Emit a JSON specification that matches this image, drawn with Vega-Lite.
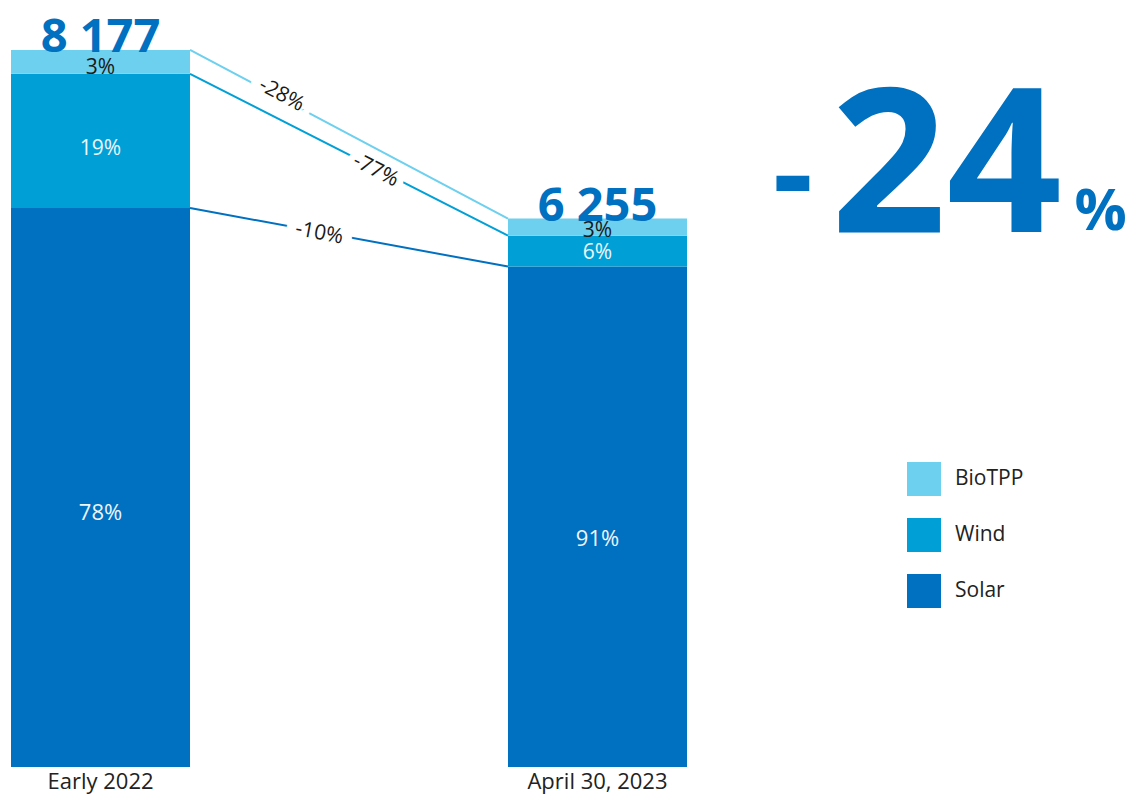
{
  "$schema": "https://vega.github.io/schema/vega-lite/v6.json",
  "padding": {"left": 11, "top": 10, "right": 0, "bottom": 3},
  "width": 676,
  "height": 757,
  "datasets": {
    "bars": [
      {"period": "Early 2022", "segment": "Solar", "value": 6375, "share": "78%", "rank": 1},
      {"period": "Early 2022", "segment": "Wind", "value": 1530, "share": "19%", "rank": 2},
      {"period": "Early 2022", "segment": "BioTPP", "value": 272, "share": "3%", "rank": 3},
      {"period": "April 30, 2023", "segment": "Solar", "value": 5707, "share": "91%", "rank": 1},
      {"period": "April 30, 2023", "segment": "Wind", "value": 352, "share": "6%", "rank": 2},
      {"period": "April 30, 2023", "segment": "BioTPP", "value": 196, "share": "3%", "rank": 3}
    ],
    "changes": [
      {"segment": "BioTPP", "change": "-28%"},
      {"segment": "Wind", "change": "-77%"},
      {"segment": "Solar", "change": "-10%"}
    ],
    "summary": [{"sign": "-", "number": "24", "unit": "%"}]
  },
  "data": {"name": "bars"},
  "layer": [
    {
      "mark": {"type": "bar"},
      "encoding": {
        "x": {
          "field": "period", "type": "nominal", "title": null,
          "scale": {"domain": ["Early 2022", "April 30, 2023"], "paddingInner": 0.6398, "paddingOuter": 0}
        },
        "y": {"field": "value", "type": "quantitative", "stack": "zero", "scale": {"domain": [0, 8633], "nice": false}, "axis": null},
        "color": {
          "field": "segment", "type": "nominal", "title": null,
          "scale": {"domain": ["BioTPP", "Wind", "Solar"], "range": ["#6DD0EE", "#00A0D6", "#0070C0"]},
          "legend": {"orient": "none", "legendX": 896, "legendY": 452}
        },
        "order": {"field": "rank", "type": "quantitative"}
      }
    },
    {
      "transform": [
        {"stack": "value", "groupby": ["period"], "sort": [{"field": "rank", "order": "ascending"}], "as": ["lo", "hi"]},
        {"pivot": "period", "value": "hi", "groupby": ["segment"]}
      ],
      "mark": {"type": "rule", "strokeWidth": 2},
      "encoding": {
        "x": {"datum": "Early 2022", "type": "nominal", "bandPosition": 1, "title": null},
        "x2": {"datum": "April 30, 2023", "bandPosition": 0},
        "y": {"field": "Early 2022", "type": "quantitative", "axis": null},
        "y2": {"field": "April 30, 2023"},
        "color": {"field": "segment", "type": "nominal", "legend": null}
      }
    },
    {
      "mark": {"type": "text", "fontSize": 21, "baseline": "middle", "align": "center", "color": "#1a1a1a"},
      "encoding": {
        "x": {"field": "period", "type": "nominal", "title": null},
        "y": {"field": "value", "type": "quantitative", "stack": "zero", "bandPosition": 0.25, "axis": null},
        "detail": {"field": "segment"},
        "order": {"field": "rank", "type": "quantitative"},
        "text": {"condition": {"test": "datum.segment === 'BioTPP'", "field": "share"}, "value": ""}
      }
    },
    {
      "mark": {"type": "text", "fontSize": 21, "baseline": "middle", "align": "center", "color": "#eef5fb"},
      "encoding": {
        "x": {"field": "period", "type": "nominal", "title": null},
        "y": {"field": "value", "type": "quantitative", "stack": "zero", "bandPosition": 0.44, "axis": null},
        "detail": {"field": "segment"},
        "order": {"field": "rank", "type": "quantitative"},
        "text": {"condition": {"test": "datum.segment === 'Wind'", "field": "share"}, "value": ""}
      }
    },
    {
      "mark": {"type": "text", "fontSize": 22, "baseline": "middle", "align": "center", "color": "#eef5fb"},
      "encoding": {
        "x": {"field": "period", "type": "nominal", "title": null},
        "y": {"field": "value", "type": "quantitative", "stack": "zero", "bandPosition": 0.455, "axis": null},
        "detail": {"field": "segment"},
        "order": {"field": "rank", "type": "quantitative"},
        "text": {"condition": {"test": "datum.segment === 'Solar'", "field": "share"}, "value": ""}
      }
    },
    {
      "mark": {"type": "text", "fontSize": 47, "fontWeight": "bold", "color": "#0070C0", "baseline": "alphabetic", "align": "center", "dy": 2},
      "encoding": {
        "x": {"field": "period", "type": "nominal", "title": null},
        "y": {"aggregate": "sum", "field": "value", "type": "quantitative", "axis": null},
        "text": {"aggregate": "sum", "field": "value", "type": "quantitative", "format": ","}
      }
    },
    {
      "transform": [
        {"stack": "value", "groupby": ["period"], "sort": [{"field": "rank", "order": "ascending"}], "as": ["lo", "hi"]},
        {"aggregate": [{"op": "mean", "field": "hi", "as": "mid"}], "groupby": ["segment"]},
        {"lookup": "segment", "from": {"data": {"name": "changes"}, "key": "segment", "fields": ["change"]}},
        {"filter": "datum.segment === 'BioTPP'"}
      ],
      "encoding": {
        "x": {"datum": "Early 2022", "type": "nominal", "bandPosition": 1.888, "title": null},
        "y": {"field": "mid", "type": "quantitative", "axis": null},
        "text": {"field": "change"}
      },
      "layer": [
        {"mark": {"type": "text", "angle": 28, "dx": -78, "dy": -3, "fontSize": 21, "baseline": "middle", "align": "center", "fill": "white", "stroke": "white", "strokeWidth": 20, "strokeJoin": "round"}},
        {"mark": {"type": "text", "angle": 28, "dx": -78, "dy": -3, "fontSize": 21, "baseline": "middle", "align": "center", "color": "#1a1a1a"}}
      ]
    },
    {
      "transform": [
        {"stack": "value", "groupby": ["period"], "sort": [{"field": "rank", "order": "ascending"}], "as": ["lo", "hi"]},
        {"aggregate": [{"op": "mean", "field": "hi", "as": "mid"}], "groupby": ["segment"]},
        {"lookup": "segment", "from": {"data": {"name": "changes"}, "key": "segment", "fields": ["change"]}},
        {"filter": "datum.segment === 'Wind'"}
      ],
      "encoding": {
        "x": {"datum": "Early 2022", "type": "nominal", "bandPosition": 1.888, "title": null},
        "y": {"field": "mid", "type": "quantitative", "axis": null},
        "text": {"field": "change"}
      },
      "layer": [
        {"mark": {"type": "text", "angle": 27, "dx": 31, "dy": 2, "fontSize": 21, "baseline": "middle", "align": "center", "fill": "white", "stroke": "white", "strokeWidth": 14, "strokeJoin": "round"}},
        {"mark": {"type": "text", "angle": 27, "dx": 31, "dy": 2, "fontSize": 21, "baseline": "middle", "align": "center", "color": "#1a1a1a"}}
      ]
    },
    {
      "transform": [
        {"stack": "value", "groupby": ["period"], "sort": [{"field": "rank", "order": "ascending"}], "as": ["lo", "hi"]},
        {"aggregate": [{"op": "mean", "field": "hi", "as": "mid"}], "groupby": ["segment"]},
        {"lookup": "segment", "from": {"data": {"name": "changes"}, "key": "segment", "fields": ["change"]}},
        {"filter": "datum.segment === 'Solar'"}
      ],
      "encoding": {
        "x": {"datum": "Early 2022", "type": "nominal", "bandPosition": 1.888, "title": null},
        "y": {"field": "mid", "type": "quantitative", "axis": null},
        "text": {"field": "change"}
      },
      "layer": [
        {"mark": {"type": "text", "angle": 10.5, "dx": -30, "dy": 1.5, "fontSize": 21, "baseline": "middle", "align": "center", "fill": "white", "stroke": "white", "strokeWidth": 20, "strokeJoin": "round"}},
        {"mark": {"type": "text", "angle": 10.5, "dx": -30, "dy": 1.5, "fontSize": 21, "baseline": "middle", "align": "center", "color": "#1a1a1a"}}
      ]
    },
    {
      "data": {"name": "summary"},
      "mark": {"type": "text", "fontSize": 125, "fontWeight": "bold", "color": "#0070C0", "align": "right", "baseline": "alphabetic"},
      "encoding": {
        "x": {"datum": "April 30, 2023", "type": "nominal", "bandPosition": 1.704, "title": null},
        "y": {"datum": 6275, "type": "quantitative", "axis": null},
        "text": {"field": "sign"}
      }
    },
    {
      "data": {"name": "summary"},
      "mark": {"type": "text", "fontSize": 202, "fontWeight": "bold", "color": "#0070C0", "align": "right", "baseline": "alphabetic"},
      "encoding": {
        "x": {"datum": "April 30, 2023", "type": "nominal", "bandPosition": 3.095, "title": null},
        "y": {"datum": 6101, "type": "quantitative", "axis": null},
        "text": {"field": "number"}
      }
    },
    {
      "data": {"name": "summary"},
      "mark": {"type": "text", "fontSize": 58, "fontWeight": "bold", "color": "#0070C0", "align": "left", "baseline": "alphabetic"},
      "encoding": {
        "x": {"datum": "April 30, 2023", "type": "nominal", "bandPosition": 3.165, "title": null},
        "y": {"datum": 6124, "type": "quantitative", "axis": null},
        "text": {"field": "unit"}
      }
    }
  ],
  "config": {
    "font": "Open Sans",
    "view": {"stroke": null},
    "locale": {"number": {"decimal": ".", "thousands": " ", "grouping": [3], "currency": ["", ""]}},
    "axisX": {
      "labelAngle": 0, "labelFontSize": 22, "labelColor": "#222222", "ticks": false, "tickSize": 0,
      "domain": false, "labelPadding": 4, "grid": false, "labelFont": "Open Sans"
    },
    "legend": {
      "symbolType": "square", "symbolSize": 1156, "symbolStrokeWidth": 0, "symbolOpacity": 1,
      "labelFontSize": 21, "labelColor": "#222222", "labelOffset": 14, "rowPadding": 22, "padding": 0, "labelFont": "Open Sans"
    }
  }
}
